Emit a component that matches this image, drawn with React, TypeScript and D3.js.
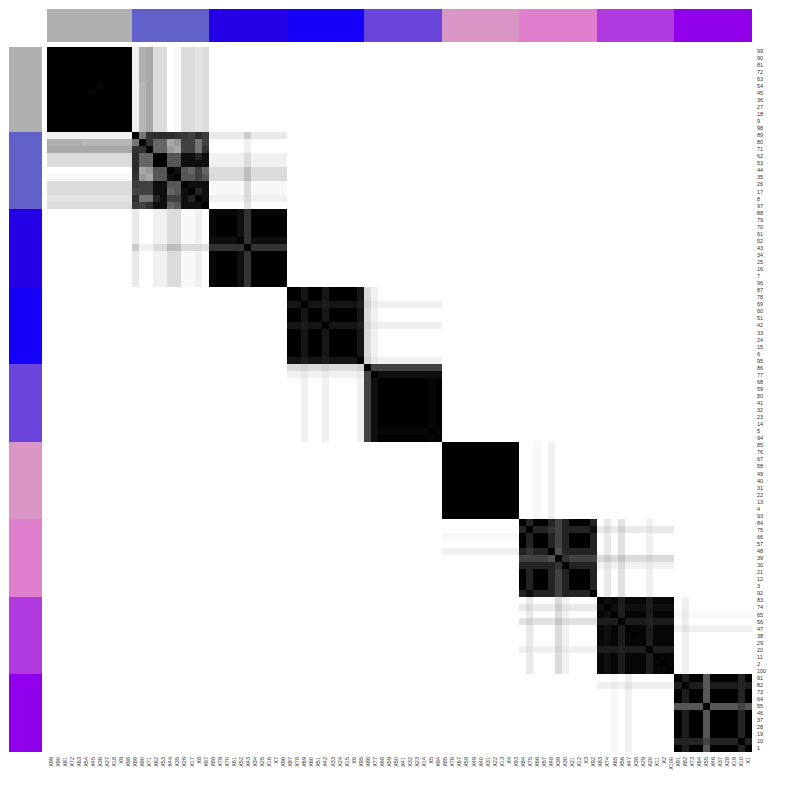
import React from "react";
import * as d3 from "d3";

// ---- data ----
const rowLabels: string[] = [
  99, 90, 81, 72, 63, 54, 45, 36, 27, 18, 9, 98,
  89, 80, 71, 62, 53, 44, 35, 26, 17, 8, 97,
  88, 79, 70, 61, 52, 43, 34, 25, 16, 7, 96,
  87, 78, 69, 60, 51, 42, 33, 24, 15, 6, 95,
  86, 77, 68, 59, 50, 41, 32, 23, 14, 5, 94,
  85, 76, 67, 58, 49, 40, 31, 22, 13, 4, 93,
  84, 75, 66, 57, 48, 39, 30, 21, 12, 3, 92,
  83, 74, 65, 56, 47, 38, 29, 20, 11, 2, 100,
  91, 82, 73, 64, 55, 46, 37, 28, 19, 10, 1,
].map(String);
const colLabels: string[] = rowLabels.map((l) => "X" + l);

const clusterSizes = [12, 11, 11, 11, 11, 11, 11, 11, 11];
const clusterColors = [
  "#B0B0B0", "#6161C9", "#2300E6", "#1400F6", "#6A45DC",
  "#D895C5", "#E07FCB", "#B03ADE", "#9000EA",
];

// consensus levels: "0" = 0 (white) ... "z" = 1 (black)
const levelChars = "0123456789abcdefghijklmnopqrstuvwxyz";

const diagA = [
  "zzzzzzzzzzzz", "zzzzzzzzzzzz", "zzzzzzzzzzzz", "zzzzzzzzzzzz",
  "zzzzzzzzzzzz", "zzzzzzzyzzzz", "zzzzzzyzzzzz", "zzzzzzzzzzzz",
  "zzzzzzzzzzzz", "zzzzzzzzzzzz", "zzzzzzzzzzzz", "zzzzzzzzzzzz",
];
const diagB = [
  "zjstttsrqtr",
  "jzsllceqqjq",
  "sszllecqqjs",
  "tllzznnxxux",
  "tllzznnxxxx",
  "tcennzxnlql",
  "secnnxznnqn",
  "rqqxxnnzxxx",
  "qqqxxlnxzux",
  "tjjuxqqxuzx",
  "rqsxxlnxxxz",
];
const diagC = [
  "zyyyxsyyyyy",
  "yzzzxszzzzz",
  "yzzzxszzzzz",
  "yzzzxszzzzz",
  "xxxxzsxxxxx",
  "ssssszsssss",
  "yzzzxszzzzz",
  "yzzzxszzzzz",
  "yzzzxszzzzz",
  "yzzzxszzzzz",
  "yzzzxszzzzz",
];
const diagD = [
  "zzwzzwzzzzw",
  "zzwzzwzzzzw",
  "wwzwwvwwwwv",
  "zzwzzwzzzzw",
  "zzwzzwzzzzw",
  "wwvwwzwwwwv",
  "zzwzzwzzzzw",
  "zzwzzwzzzzw",
  "zzwzzwzzzzw",
  "zzwzzwzzzzw",
  "wwvwwvwwwwz",
];
const diagE = [
  "zqqqqqqqqqq",
  "qzxxxxxxxxx",
  "qxzzzzzzzyz",
  "qxzzzzzzzyz",
  "qxzzzzzzzyz",
  "qxzzzzzzzyz",
  "qxzzzzzzzyz",
  "qxzzzzzzzyz",
  "qxzzzzzzzyz",
  "qxyyyyyyyzy",
  "qxzzzzzzzyz",
];
const diagF = [
  "zzzzzzzzzzz", "zzzzzzzzzzz", "zzzzzzzzzzz", "zzzzzzzzzzz",
  "zzzzzzzzzzz", "zzzzzzzzzzz", "zzzzzzzzzzz", "zzzzzzzzzzz",
  "zzzzzzzzzzz", "zzzzzzzzzzz", "zzzzzzzzzzz",
];
const diagG = [
  "zuzzuquzzzu",
  "uzuusquuuux",
  "zuzzuquzzzu",
  "zuzzuquzzzu",
  "usuuzouuuuu",
  "qqqqozsqqqq",
  "uuuuuszuuuu",
  "zuzzuquzzzu",
  "zuzzuquzzzu",
  "zuzzuquzzzu",
  "uxuuuquuuuz",
];
const diagH = [
  "zxyvyyyvyyy",
  "xzxvxxxvxxx",
  "yxzvyyyvyyy",
  "vvvzvvvuvvv",
  "yxyvzyyvyyy",
  "yxyvyzyvyyy",
  "yxyvyyzvyyy",
  "vvvuvvvzvvv",
  "yxyvyyyvzyy",
  "yxyvyyyvyzy",
  "yxyvyyyvyyz",
];
const diagI = [
  "zvzznzzzzuz",
  "vzvvnvvvvuv",
  "zvzznzzzzuz",
  "zvzznzzzzuz",
  "nnnnznnnnqn",
  "zvzznzzzzuz",
  "zvzznzzzzuz",
  "zvzznzzzzuz",
  "zvzznzzzzuz",
  "uuuuquuuuzu",
  "zvzznzzzzuz",
];

// off-diagonal blocks: rows of cluster a x columns of cluster b (mirrored)
const offAB = [
  "2bc55015545", "2bc55015545", "2bc55015545", "2bc55015545",
  "2bc55015545", "2ac55015545", "2ac55015545", "2ac55015545",
  "2ac55015545", "2ac55015545", "2ac55015545", "2ac55015545",
];
const offBC = [
  "33333733333",
  "00000200000",
  "00000200000",
  "22222522222",
  "22222522222",
  "55555955555",
  "55555955555",
  "11111511111",
  "11111511111",
  "22222522222",
  "00000400000",
];
const offDE = [
  "52000000000",
  "52000000000",
  "63222222222",
  "52000000000",
  "52000000000",
  "63222222222",
  "52000000000",
  "52000000000",
  "52000000000",
  "52000000000",
  "63222222222",
];
const offFG = [
  "00102000000", "00102000000", "00102000000", "00102000000",
  "00102000000", "00102000000", "00102000000", "00102000000",
  "00102000000", "00102000000", "00102000000",
];
const offGH = [
  "03040002000",
  "35363334333",
  "03040002000",
  "03040002000",
  "03040002000",
  "57585556555",
  "24252223222",
  "03040002000",
  "03040002000",
  "03040002000",
  "03040002000",
];
const offHI = [
  "02000000000",
  "02000000000",
  "13111111111",
  "02000000000",
  "24222222222",
  "02000000000",
  "02000000000",
  "02000000000",
  "02000000000",
  "02000000000",
  "02000000000",
];

const diagBlocks = [diagA, diagB, diagC, diagD, diagE, diagF, diagG, diagH, diagI];
const offBlocks: { a: number; b: number; rows: string[] }[] = [
  { a: 0, b: 1, rows: offAB },
  { a: 1, b: 2, rows: offBC },
  { a: 3, b: 4, rows: offDE },
  { a: 5, b: 6, rows: offFG },
  { a: 6, b: 7, rows: offGH },
  { a: 7, b: 8, rows: offHI },
];

// ---- build matrix ----
const N = rowLabels.length;
const starts: number[] = [];
clusterSizes.reduce((acc, s) => {
  starts.push(acc);
  return acc + s;
}, 0);
const lv = (c: string) => levelChars.indexOf(c) / 35;

const matrix: number[][] = Array.from({ length: N }, () => new Array(N).fill(0));
diagBlocks.forEach((rows, k) => {
  rows.forEach((s, r) => {
    s.split("").forEach((c, j) => {
      matrix[starts[k] + r][starts[k] + j] = lv(c);
    });
  });
});
offBlocks.forEach(({ a, b, rows }) => {
  rows.forEach((s, r) => {
    s.split("").forEach((c, j) => {
      const v = lv(c);
      matrix[starts[a] + r][starts[b] + j] = v;
      matrix[starts[b] + j][starts[a] + r] = v;
    });
  });
});

const cells: { r: number; c: number; v: number }[] = [];
for (let r = 0; r < N; r++) for (let c = 0; c < N; c++) cells.push({ r, c, v: matrix[r][c] });

// ---- layout ----
const W = 800;
const H = 800;
const x0 = 47;
const x1 = 752;
const annA = 9.3;
const annB = 41.7;
const FONT = "'Liberation Sans', Arial, Helvetica, sans-serif";

export default function App() {
  const x = d3.scaleBand<number>().domain(d3.range(N)).range([x0, x1]).padding(0);
  const y = d3.scaleBand<number>().domain(d3.range(N)).range([x0, x1]).padding(0);
  const color = d3.scaleLinear<string>().domain([0, 1]).range(["#ffffff", "#000000"]);
  const bw = x.bandwidth();

  return (
    <svg
      width={W}
      height={H}
      viewBox={`0 0 ${W} ${H}`}
      style={{ position: "absolute", left: 0, top: 0, background: "#ffffff" }}
    >
      <rect x={0} y={0} width={W} height={H} fill="#ffffff" />
      <g shapeRendering="crispEdges">
        {cells.map((d) => (
          <rect
            key={d.r * N + d.c}
            x={x(d.c)}
            y={y(d.r)}
            width={bw}
            height={bw}
            fill={color(d.v)}
          />
        ))}
      </g>
      <g shapeRendering="crispEdges">
        {clusterSizes.map((s, k) => (
          <rect
            key={"ca" + k}
            x={x(starts[k])}
            y={annA}
            width={bw * s}
            height={annB - annA}
            fill={clusterColors[k]}
          />
        ))}
        {clusterSizes.map((s, k) => (
          <rect
            key={"ra" + k}
            x={annA}
            y={y(starts[k])}
            width={annB - annA}
            height={bw * s}
            fill={clusterColors[k]}
          />
        ))}
      </g>
      <g fontFamily={FONT} fontSize={5.5} fill="#333333">
        {rowLabels.map((l, i) => (
          <text key={"rl" + i} x={757} y={(y(i) as number) + bw / 2} dominantBaseline="central">
            {l}
          </text>
        ))}
        {colLabels.map((l, i) => (
          <text
            key={"cl" + i}
            transform={`translate(${(x(i) as number) + bw / 2},757) rotate(-90)`}
            textAnchor="end"
            dominantBaseline="central"
          >
            {l}
          </text>
        ))}
      </g>
    </svg>
  );
}
